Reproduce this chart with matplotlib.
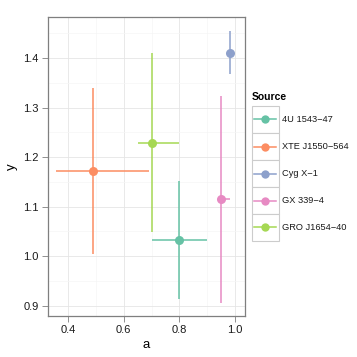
import matplotlib
matplotlib.use("Agg")
import matplotlib.pyplot as plt
from matplotlib.patches import Rectangle
from matplotlib.lines import Line2D
from matplotlib.ticker import MultipleLocator

plt.rcParams['font.family'] = ['Liberation Sans', 'DejaVu Sans']

sources = ["4U 1543\u221247", "XTE J1550\u2212564", "Cyg X\u22121", "GX 339\u22124", "GRO J1654\u221240"]
colors = ["#66C2A5", "#FC8D62", "#8DA0CB", "#E78AC3", "#A6D854"]
a_vals = [0.80, 0.49, 0.98, 0.95, 0.70]
a_lo = [0.70, 0.358, 0.97, 0.94, 0.65]
a_hi = [0.90, 0.690, 0.99, 0.982, 0.80]
y_vals = [1.033, 1.172, 1.411, 1.115, 1.228]
y_lo = [0.913, 1.005, 1.367, 0.906, 1.048]
y_hi = [1.152, 1.339, 1.455, 1.324, 1.410]

W = 357
fig = plt.figure(figsize=(W / 100, W / 100), dpi=100)
ax = fig.add_axes([47.7 / W, 1 - 316 / W, (245 - 47.7) / W, (316 - 17) / W])

for i in range(len(sources)):
    ax.plot([a_lo[i], a_hi[i]], [y_vals[i], y_vals[i]], color=colors[i], lw=1.1, solid_capstyle='butt', zorder=3)
    ax.plot([a_vals[i], a_vals[i]], [y_lo[i], y_hi[i]], color=colors[i], lw=1.1, solid_capstyle='butt', zorder=3)
    ax.plot([a_vals[i]], [y_vals[i]], 'o', color=colors[i], ms=6.5, mew=0, zorder=4)

ax.set_xlim(0.328, 1.035)
ax.set_ylim(0.879, 1.483)
ax.xaxis.set_minor_locator(MultipleLocator(0.1))
ax.yaxis.set_minor_locator(MultipleLocator(0.05))
ax.set_xticks([0.4, 0.6, 0.8, 1.0])
ax.set_xticklabels(["0.4", "0.6", "0.8", "1.0"])
ax.set_yticks([0.9, 1.0, 1.1, 1.2, 1.3, 1.4])
ax.set_yticklabels(["0.9", "1.0", "1.1", "1.2", "1.3", "1.4"])
ax.grid(which='major', color='#E5E5E5', lw=0.6, zorder=0)
ax.grid(which='minor', color='#F5F5F5', lw=0.5, zorder=0)
ax.set_axisbelow(True)
for s in ax.spines.values():
    s.set_color('#7F7F7F')
    s.set_linewidth(0.9)
ax.tick_params(which='major', length=4.5, width=0.6, color='#7F7F7F', labelsize=8, labelcolor='#1A1A1A', pad=2)
ax.tick_params(which='minor', length=0)
ax.set_xlabel('a', fontsize=9.5, labelpad=3)
ax.set_ylabel('y', fontsize=9.5, labelpad=4)

# legend drawn manually
fig.text(252 / W, 1 - 97 / W, "Source", fontsize=7.5, fontweight='bold', va='center', ha='left')
top = 106
h = 27
for i in range(len(sources)):
    y0 = top + i * h
    fig.patches.append(Rectangle((251.5 / W, 1 - (y0 + h) / W), 27 / W, h / W, transform=fig.transFigure,
                                 facecolor='white', edgecolor='#CCCCCC', lw=0.8))
    yc = 1 - (y0 + h / 2) / W
    fig.lines.append(Line2D([254 / W, 276 / W], [yc, yc], transform=fig.transFigure, color=colors[i], lw=1.1))
    fig.lines.append(Line2D([265 / W], [yc], transform=fig.transFigure, marker='o', color=colors[i], ms=6, mew=0))
    fig.text(282 / W, yc, sources[i], fontsize=6.7, va='center', ha='left', color='#1A1A1A')

fig.savefig('out.png', dpi=100)
